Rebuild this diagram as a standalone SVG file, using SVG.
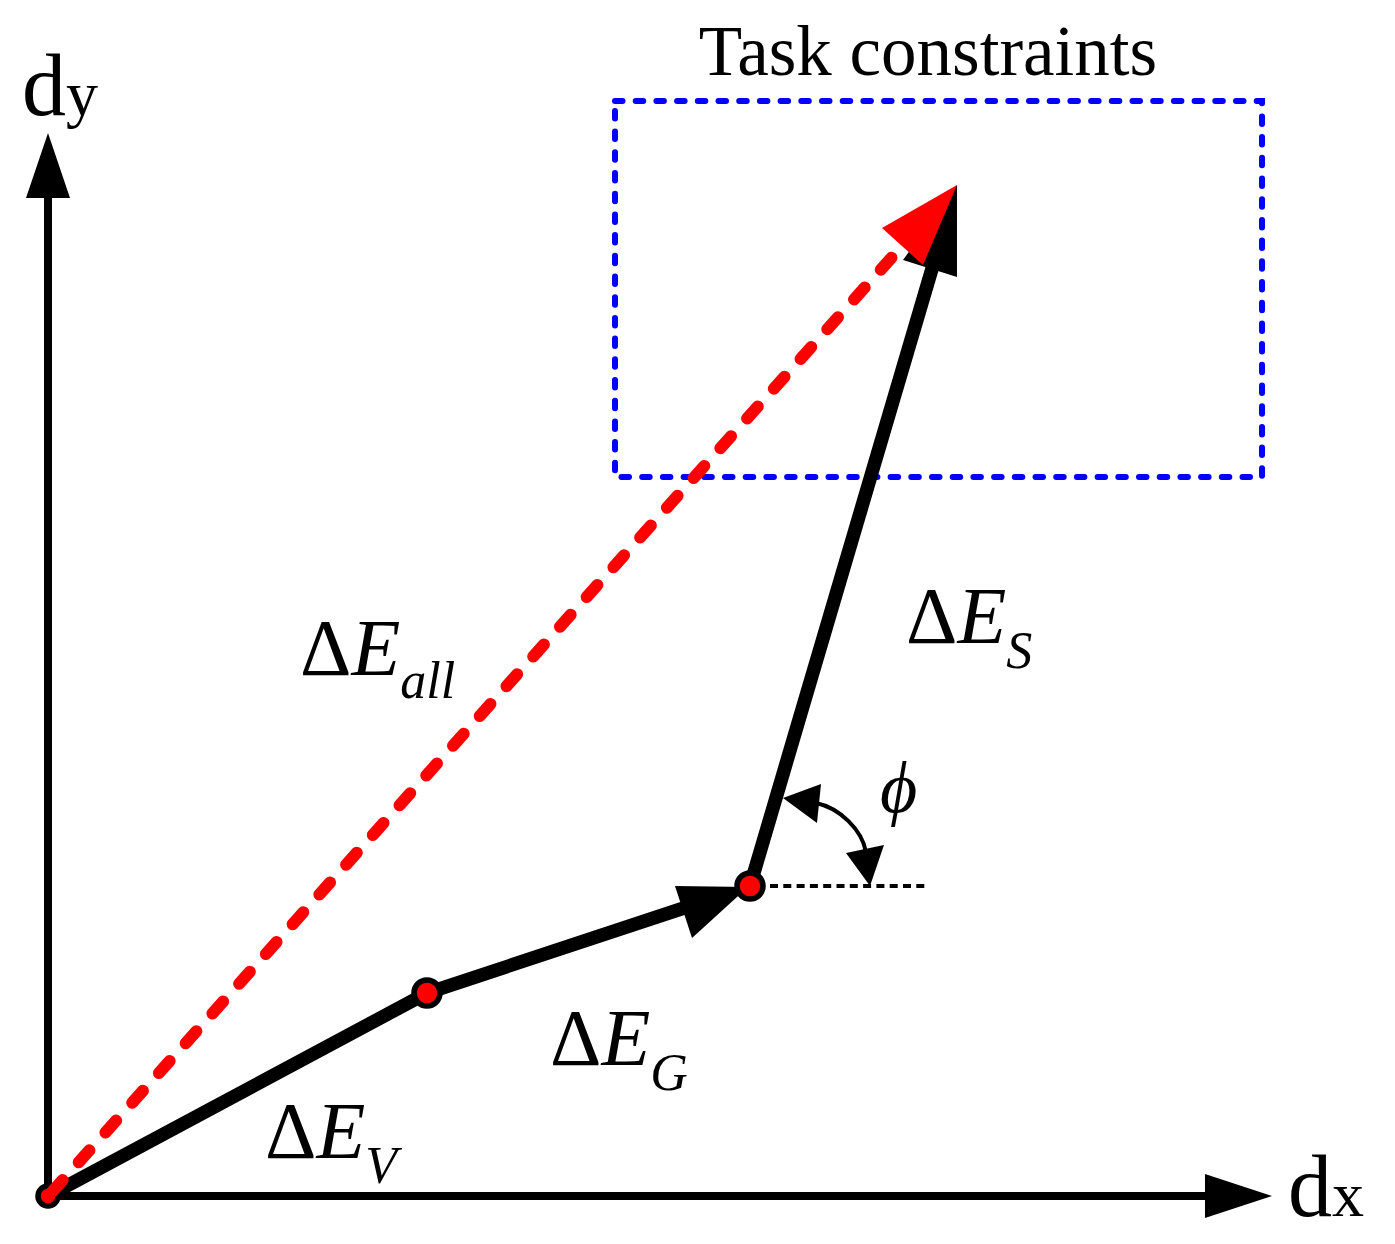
<svg xmlns="http://www.w3.org/2000/svg" width="1395" height="1244" viewBox="0 0 1395 1244">
<style>
.lbl{font-family:"Liberation Serif","Times New Roman",serif;fill:#000}
.it{font-style:italic}
.vec{stroke:#000;stroke-width:13.5;fill:none}
.node{fill:#ff0000;stroke:#000;stroke-width:5.5}
</style>
<rect width="1395" height="1244" fill="#fff"/>
<g id="task-constraints">
<rect x="615" y="101" width="647" height="376" fill="none" stroke="#0000ff" stroke-width="6" stroke-dasharray="7.5 13.2" stroke-linecap="round"/>
<text class="lbl" x="928" y="75" font-size="71" text-anchor="middle">Task constraints</text>
</g>
<g id="axes">
<line x1="48" y1="1200" x2="48" y2="196" stroke="#000" stroke-width="8"/>
<polygon points="48,133 26,198 70,198" fill="#000"/>
<line x1="44" y1="1196" x2="1207" y2="1196" stroke="#000" stroke-width="8"/>
<polygon points="1272,1196 1205,1174 1205,1218" fill="#000"/>
<text class="lbl" x="22" y="115" font-size="88">d<tspan font-size="64">y</tspan></text>
<text class="lbl" x="1288" y="1216" font-size="88">d<tspan font-size="64">x</tspan></text>
</g>
<g id="connectors">
<polyline class="vec" points="48,1196 427,993 690,906"/>
<polygon points="748,887 675,886 692,938" fill="#000"/>
<line class="vec" x1="750" y1="886" x2="934" y2="262"/>
<polygon points="957,185 903,260 957,277" fill="#000"/>
<line x1="770" y1="886" x2="925" y2="886" stroke="#000" stroke-width="4" stroke-dasharray="8 5.3"/>
<path d="M816,803 C840,808 862,830 866,852" fill="none" stroke="#000" stroke-width="4"/>
<polygon points="783,798 821,784 817,823" fill="#000"/>
<polygon points="870,886 846,853 884,845" fill="#000"/>
</g>
<g id="node-origin"><circle class="node" cx="48" cy="1196" r="10" stroke-width="7"/></g>
<g id="node-1"><circle class="node" cx="427" cy="993" r="13"/></g>
<g id="node-2"><circle class="node" cx="750" cy="886" r="13"/></g>
<g id="resultant">
<line x1="52" y1="1192" x2="902" y2="246" stroke="#ff0000" stroke-width="12" stroke-linecap="round" stroke-dasharray="16 24"/>
<polygon points="957,185 882,228 923,265" fill="#ff0000"/>
</g>
<g id="labels">
<text class="lbl" x="300" y="675" font-size="80">Δ<tspan class="it">E</tspan><tspan class="it" font-size="52" dy="23">all</tspan></text>
<text class="lbl" x="906" y="643" font-size="80">Δ<tspan class="it">E</tspan><tspan class="it" font-size="52" dy="25">S</tspan></text>
<text class="lbl" x="550" y="1065" font-size="80">Δ<tspan class="it">E</tspan><tspan class="it" font-size="52" dy="25">G</tspan></text>
<text class="lbl" x="265" y="1158" font-size="80">Δ<tspan class="it">E</tspan><tspan class="it" font-size="52" dy="25">V</tspan></text>
<text class="lbl it" x="880" y="812" font-size="72">ϕ</text>
</g>
</svg>
